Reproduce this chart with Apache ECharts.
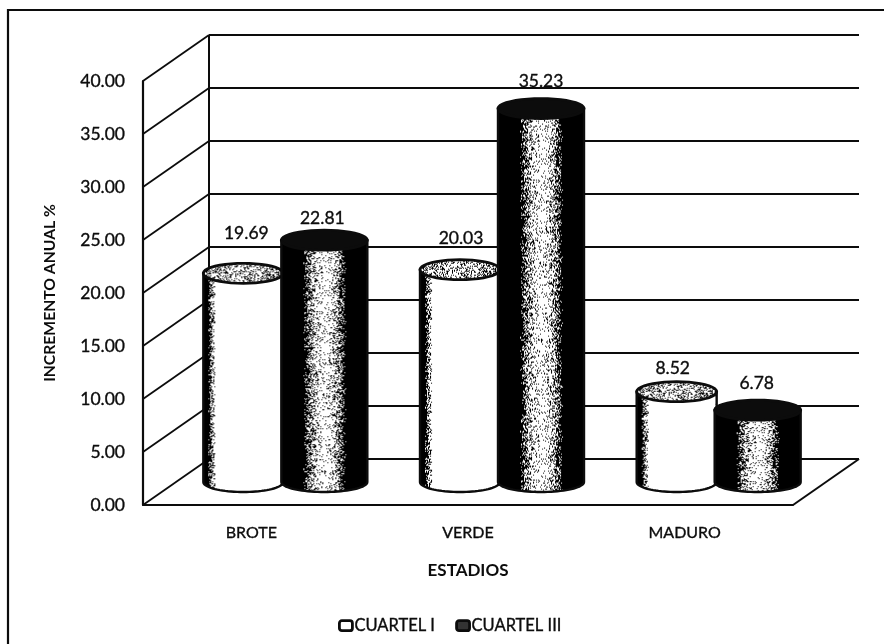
<!DOCTYPE html>
<html><head><meta charset="utf-8">
<style>html,body{margin:0;padding:0;background:#fff}#c{width:884px;height:644px}</style>
<script src="https://cdn.jsdelivr.net/npm/echarts@6/dist/echarts.min.js"></script>
</head><body><div id="c"></div>
<script>
const categories = ['BROTE', 'VERDE', 'MADURO'];
const cuartel1 = [19.69, 20.03, 8.52];
const cuartel3 = [22.81, 35.23, 6.78];
const yTicks = [0, 5, 10, 15, 20, 25, 30, 35, 40];

const FONT = 'Lato';
const INK = '#0c0c0c';
const DEPTH = [66, -46];
const RY = 10;
const HEAVY = { textBorderColor: INK, textBorderWidth: 0.35 };

function hash(x, y) {
  let h = (x * 374761393 + y * 668265263) | 0;
  h = Math.imul(h ^ (h >>> 13), 1274126177);
  return ((h ^ (h >>> 16)) >>> 0) / 4294967296;
}
function stipple(w, h, density) {
  const cv = document.createElement('canvas');
  cv.width = w; cv.height = h;
  const ctx = cv.getContext('2d');
  ctx.fillStyle = '#fff'; ctx.fillRect(0, 0, w, h);
  ctx.fillStyle = '#000';
  for (let y = 0; y < h; y++) for (let x = 0; x < w; x++) {
    if (hash(x + 11, y + 7) < density(x / w, y / h)) ctx.fillRect(x, y, 1, 1);
  }
  return { image: cv, repeat: 'repeat' };
}
const clamp = v => Math.max(0, Math.min(1, v));
const whiteSide = stipple(80, 300, t => clamp(1.5 - t * 10) + clamp((t - 0.965) * 14) * 0.7);
const darkSide = stipple(86, 300, t => {
  const d = Math.abs(t - 0.5) / 0.5;
  const s = clamp(d / 0.52);
  return clamp(0.1 + 0.97 * s * s);
});
const whiteTop = stipple(80, 20, t => 0.25 + 0.4 * Math.abs(t - 0.45));

function ellipsePts(rx, cy, from, to) {
  const pts = [];
  for (let i = 0; i <= 40; i++) {
    const a = from + (to - from) * i / 40;
    pts.push([rx + rx * Math.cos(a), cy + RY * Math.sin(a)]);
  }
  return pts;
}

const labelNudge = {
  'CUARTEL I': [[3, -40], [1, -31], [-4, -23]],
  'CUARTEL III': [[-2, -22], [0, -27], [-1, -27]]
};

function cylinder(name, widthPx, centerShift, sideFill, topFill) {
  return function (params, api) {
    const i = api.value(0), v = api.value(1);
    const base = api.coord([i, 0]);
    const top = api.coord([i, v]);
    const cx = base[0] + DEPTH[0] / 2 + centerShift;
    const dy = DEPTH[1] / 2;
    const left = cx - widthPx / 2;
    const topY = top[1] + dy, h = base[1] - top[1];
    const rx = widthPx / 2;
    const body = [[0, 0]].concat(ellipsePts(rx, h, Math.PI, 0), [[widthPx, 0]]);
    const nudge = labelNudge[name][i];
    return {
      type: 'group',
      children: [
        { type: 'polygon', x: left, y: topY, shape: { points: body },
          style: { fill: sideFill, stroke: INK, lineWidth: 2.4 } },
        { type: 'polygon', x: left, y: topY, shape: { points: ellipsePts(rx, 0, 0, Math.PI * 2) },
          style: { fill: topFill, stroke: INK, lineWidth: 2.8 } },
        { type: 'text', x: cx + nudge[0], y: topY + nudge[1],
          style: { text: v.toFixed(2), font: '17.5px ' + FONT, fill: INK, stroke: INK, lineWidth: 0.35, align: 'center', verticalAlign: 'middle' } }
      ]
    };
  };
}

function wall(params, api) {
  const v = api.value(0);
  const cs = params.coordSys;
  const y = api.coord([0, v])[1];
  const bx = cs.x + DEPTH[0], by = y + DEPTH[1];
  const s = { stroke: INK, lineWidth: 1.8, fill: null };
  return { type: 'group', children: [
    { type: 'line', shape: { x1: cs.x, y1: y, x2: bx, y2: by }, style: s },
    { type: 'line', shape: { x1: bx, y1: by, x2: cs.x + cs.width + DEPTH[0], y2: by }, style: s }
  ]};
}
function frame(params, api) {
  const cs = params.coordSys;
  const b0 = cs.y + cs.height, t0 = cs.y;
  const s = { stroke: INK, lineWidth: 2, fill: null };
  return { type: 'group', children: [
    { type: 'line', shape: { x1: cs.x + DEPTH[0], y1: t0 + DEPTH[1], x2: cs.x + DEPTH[0], y2: b0 + DEPTH[1] }, style: s },
    { type: 'line', shape: { x1: cs.x + cs.width, y1: b0, x2: cs.x + cs.width + DEPTH[0], y2: b0 + DEPTH[1] }, style: s }
  ]};
}

const chart = echarts.init(document.getElementById('c'), null, { renderer: 'canvas' });
chart.setOption({
  animation: false,
  backgroundColor: '#fff',
  graphic: [{ type: 'polyline', silent: true, shape: { points: [[8, 644], [8, 10], [884, 10]] },
    style: { stroke: INK, lineWidth: 2.2, fill: null } }],
  grid: { left: 143, top: 81, width: 650, height: 424 },
  legend: {
    left: 333, top: 612, itemWidth: 13, itemHeight: 10, itemGap: 20,
    textStyle: { fontFamily: FONT, fontSize: 16.5, color: INK, padding: [0, 0, 0, -3], ...HEAVY },
    data: [
      { name: 'CUARTEL I', icon: 'roundRect', itemStyle: { color: '#fff', borderColor: INK, borderWidth: 2.8 } },
      { name: 'CUARTEL III', icon: 'roundRect', itemStyle: { color: '#333', borderColor: INK, borderWidth: 2.8 } }
    ]
  },
  xAxis: {
    type: 'category', data: categories,
    axisLine: { show: true, lineStyle: { color: INK, width: 2 } },
    axisTick: { show: false },
    axisLabel: { color: INK, fontFamily: FONT, fontSize: 16, margin: 20, ...HEAVY },
    name: 'ESTADIOS', nameLocation: 'middle', nameGap: 57,
    nameTextStyle: { color: INK, fontFamily: FONT, fontSize: 17, fontWeight: 'bold' }
  },
  yAxis: {
    type: 'value', min: 0, max: 40, interval: 5,
    axisLine: { show: true, lineStyle: { color: INK, width: 2.2 } },
    axisTick: { show: false },
    splitLine: { show: false },
    axisLabel: { color: INK, fontFamily: FONT, fontSize: 17.5, margin: 18, padding: [4, 0, 0, 0], formatter: v => v.toFixed(2), ...HEAVY },
    name: 'INCREMENTO ANUAL %', nameLocation: 'middle', nameGap: 85,
    nameTextStyle: { color: INK, fontFamily: FONT, fontSize: 15.7, fontWeight: 'bold' }
  },
  series: [
    { type: 'custom', coordinateSystem: 'cartesian2d', silent: true, z: 1, data: yTicks.map(v => [v]), encode: { y: 0 }, renderItem: wall },
    { type: 'custom', coordinateSystem: 'cartesian2d', silent: true, z: 1, data: [[0]], encode: { y: 0 }, renderItem: frame },
    { type: 'custom', name: 'CUARTEL I', coordinateSystem: 'cartesian2d', z: 2, silent: true,
      data: cuartel1.map((v, i) => [i, v]), encode: { x: 0, y: 1 },
      renderItem: cylinder('CUARTEL I', 80, -41, whiteSide, whiteTop) },
    { type: 'custom', name: 'CUARTEL III', coordinateSystem: 'cartesian2d', z: 3, silent: true,
      data: cuartel3.map((v, i) => [i, v]), encode: { x: 0, y: 1 },
      renderItem: cylinder('CUARTEL III', 86, 40, darkSide, INK) }
  ]
});
</script></body></html>
